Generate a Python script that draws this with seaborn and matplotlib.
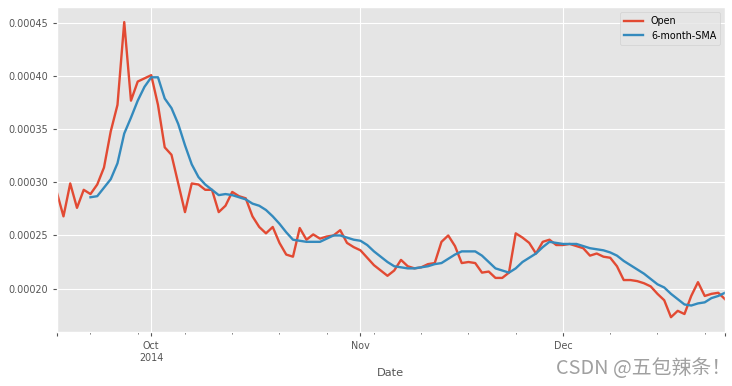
import pandas as pd
import matplotlib
matplotlib.use("Agg")
import matplotlib.pyplot as plt
import matplotlib.dates as mdates
import matplotlib.ticker as mticker
import seaborn as sns

# daily prices (17 Sep 2014 -> 25 Dec 2014)
START_DATE = "2014-09-17"
open_vals = [
    0.000291, 0.000268, 0.000299, 0.000276, 0.000293, 0.000289, 0.000298, 0.000314, 0.000348, 0.000373,
    0.000451, 0.000377, 0.000395, 0.000398, 0.000401, 0.000373, 0.000333, 0.000326, 0.000299, 0.000272,
    0.000299, 0.000298, 0.000293, 0.000293, 0.000272, 0.000278, 0.000291, 0.000287, 0.000285, 0.000268,
    0.000258, 0.000252, 0.000258, 0.000243, 0.000232, 0.000230, 0.000257, 0.000246, 0.000251, 0.000247,
    0.000249, 0.000250, 0.000255, 0.000243, 0.000239, 0.000236, 0.000229, 0.000222, 0.000217, 0.000212,
    0.000217, 0.000227, 0.000221, 0.000219, 0.000220, 0.000223, 0.000224, 0.000244, 0.000250, 0.000240,
    0.000224, 0.000225, 0.000224, 0.000215, 0.000216, 0.000210, 0.000210, 0.000215, 0.000252, 0.000248,
    0.000243, 0.000233, 0.000244, 0.000246, 0.000241, 0.000241, 0.000242, 0.000240, 0.000238, 0.000231,
    0.000233, 0.000230, 0.000229, 0.000221, 0.000208, 0.000208, 0.000207, 0.000205, 0.000202, 0.000195,
    0.000189, 0.000173, 0.000179, 0.000176, 0.000193, 0.000206, 0.000193, 0.000195, 0.000196, 0.000190,
]
# moving average starts on the 6th day
sma_vals = [
    0.000286, 0.000287, 0.000295, 0.000303, 0.000318,
    0.000346, 0.000361, 0.000377, 0.000390, 0.000399, 0.000399, 0.000379, 0.000370, 0.000355, 0.000335,
    0.000317, 0.000305, 0.000298, 0.000293, 0.000288, 0.000289, 0.000288, 0.000286, 0.000284, 0.000280,
    0.000278, 0.000274, 0.000268, 0.000261, 0.000253, 0.000246, 0.000245, 0.000244, 0.000244, 0.000244,
    0.000247, 0.000250, 0.000250, 0.000248, 0.000246, 0.000245, 0.000241, 0.000235, 0.000230, 0.000225,
    0.000221, 0.000220, 0.000219, 0.000219, 0.000220, 0.000221, 0.000223, 0.000224, 0.000228, 0.000232,
    0.000235, 0.000235, 0.000235, 0.000231, 0.000225, 0.000219, 0.000217, 0.000215, 0.000219, 0.000225,
    0.000229, 0.000233, 0.000239, 0.000244, 0.000243, 0.000242, 0.000242, 0.000242, 0.000240, 0.000238,
    0.000237, 0.000236, 0.000234, 0.000231, 0.000226, 0.000222, 0.000218, 0.000214, 0.000209, 0.000204,
    0.000201, 0.000195, 0.000190, 0.000185, 0.000184, 0.000186, 0.000187, 0.000191, 0.000193, 0.000196,
]
series_names = ["Open", "6-month-SMA"]
month_labels = ["Oct\n2014", "Nov", "Dec"]
watermark = "CSDN @五包辣条！"


def build_frames():
    dates = pd.date_range(START_DATE, periods=len(open_vals), freq="D")
    df_open = pd.DataFrame({"Date": dates, "value": open_vals})
    df_sma = pd.DataFrame({"Date": dates[len(open_vals) - len(sma_vals):], "value": sma_vals})
    return dates, df_open, df_sma


def main():
    plt.style.use("ggplot")
    plt.rcParams["font.family"] = ["DejaVu Sans"]
    dates, df_open, df_sma = build_frames()

    fig, ax = plt.subplots(figsize=(7.32, 3.86), dpi=100)
    fig.subplots_adjust(left=0.0775, right=0.9904, top=0.981, bottom=0.140)

    sns.lineplot(data=df_open, x="Date", y="value", ax=ax, color="#E24A33", lw=1.7, label=series_names[0])
    sns.lineplot(data=df_sma, x="Date", y="value", ax=ax, color="#348ABD", lw=1.7, label=series_names[1])

    ax.set_xlim(dates[0], dates[-1])
    month_starts = pd.date_range(dates[0], dates[-1], freq="MS")
    major = [dates[0]] + list(month_starts) + [dates[-1]]
    ax.xaxis.set_major_locator(mticker.FixedLocator(mdates.date2num(major)))
    ax.xaxis.set_major_formatter(mticker.FixedFormatter([""] + month_labels + [""]))
    ax.xaxis.set_minor_locator(mdates.WeekdayLocator(byweekday=mdates.MO))
    ax.xaxis.set_minor_formatter(mticker.NullFormatter())
    ax.yaxis.set_major_formatter(mticker.FormatStrFormatter("%.5f"))

    ax.tick_params(axis="both", which="major", labelsize=6.9, length=3, colors="#555555")
    ax.tick_params(axis="x", which="minor", length=1.6, colors="#555555")
    ax.set_xlabel("Date", fontsize=8.2, color="#555555")
    ax.set_ylabel("")

    ax.legend(loc="upper right", fontsize=6.9)

    fig.text(0.999, 0.045, watermark, ha="right", va="center", fontsize=14.3,
             color="#a0a0a0", family=["Noto Sans CJK SC", "DejaVu Sans"])

    fig.savefig("out.png", dpi=100)
    plt.close(fig)


if __name__ == "__main__":
    main()
